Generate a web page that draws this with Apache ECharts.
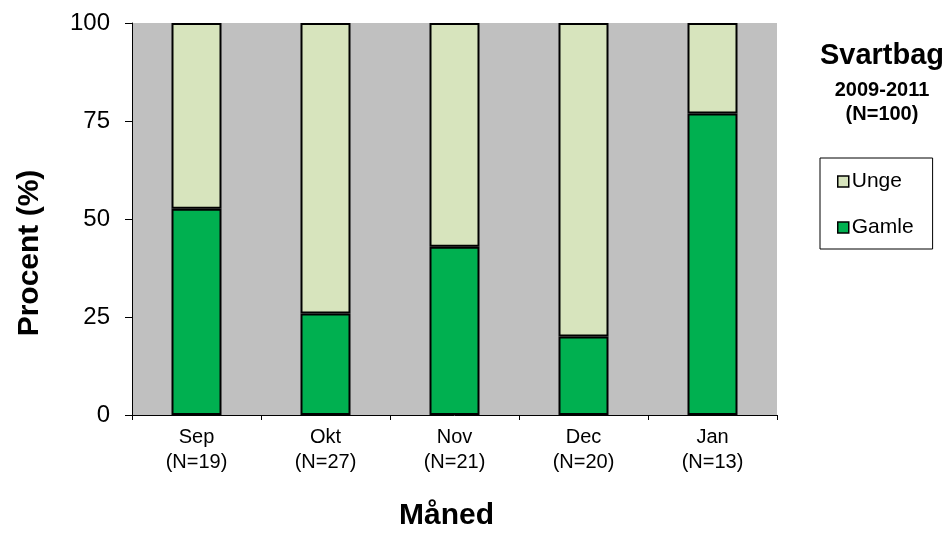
<!DOCTYPE html>
<html><head><meta charset="utf-8">
<script src="https://cdn.jsdelivr.net/npm/echarts@6/dist/echarts.min.js"></script>
<style>html,body{margin:0;padding:0;background:#fff}#c{width:950px;height:536px}</style>
</head><body><div id="c"></div>
<script>
const months = ['Sep','Okt','Nov','Dec','Jan'];
const nValues = [19,27,21,20,13];
const gamle = [52.6,25.9,42.9,20.0,76.9];
const unge = [47.4,74.1,57.1,80.0,23.1];
const yTicks = [0,25,50,75,100];

const cats = months.map((m,i)=>m+'\n(N='+nValues[i]+')');
const chart = echarts.init(document.getElementById('c'));
const F = 'Arial, "Liberation Sans", sans-serif';
chart.setOption({
  animation:false,
  textStyle:{fontFamily:F},
  grid:{left:132,right:173,top:23,bottom:113,show:true,backgroundColor:'#C0C0C0',borderWidth:0},
  title:{
    text:'Svartbag',
    subtext:'2009-2011\n(N=100)',
    left:882, top:41, textAlign:'center', padding:0,
    textStyle:{fontFamily:F,fontSize:29,fontWeight:'bold',color:'#000',lineHeight:29},
    subtextStyle:{fontFamily:F,fontSize:20,fontWeight:'bold',color:'#000',lineHeight:24,align:'center'},
    itemGap:8
  },
  legend:{
    data:['Unge','Gamle'],
    orient:'vertical',
    left:820, top:158,
    padding:[13,19,11,17],
    itemGap:25,
    itemWidth:11,itemHeight:11,
    borderColor:'#000',borderWidth:1,
    icon:'rect',
    itemStyle:{borderWidth:1.5,borderColor:'#000'},
    textStyle:{fontFamily:F,fontSize:21,color:'#000',padding:[0,0,0,-2]}
  },
  xAxis:{
    type:'category',data:cats,
    name:'Måned',nameLocation:'middle',nameGap:86,
    nameTextStyle:{fontFamily:F,fontSize:30,fontWeight:'bold',color:'#000',padding:[0,16,0,0]},
    axisLine:{lineStyle:{color:'#000',width:1}},
    axisTick:{show:true,length:5,lineStyle:{color:'#000'}},
    axisLabel:{fontFamily:F,fontSize:20,color:'#000',lineHeight:25,margin:10}
  },
  yAxis:{
    type:'value',min:0,max:100,interval:25,
    name:'Procent (%)',nameLocation:'middle',nameGap:87,
    nameTextStyle:{fontFamily:F,fontSize:30,fontWeight:'bold',color:'#000',padding:[0,68,0,0]},
    axisLine:{show:true,lineStyle:{color:'#000',width:1}},
    axisTick:{show:true,length:7,lineStyle:{color:'#000'}},
    axisLabel:{fontFamily:F,fontSize:24,color:'#000',margin:22,
      formatter:v=>yTicks.includes(v)?String(v):''},
    splitLine:{show:false}
  },
  series:[
    {name:'Gamle',type:'bar',stack:'a',data:gamle,barWidth:50,
     itemStyle:{color:'#00B050',borderColor:'#000',borderWidth:2}},
    {name:'Unge',type:'bar',stack:'a',data:unge,barWidth:50,
     itemStyle:{color:'#D7E4BD',borderColor:'#000',borderWidth:2}}
  ]
});
</script></body></html>
